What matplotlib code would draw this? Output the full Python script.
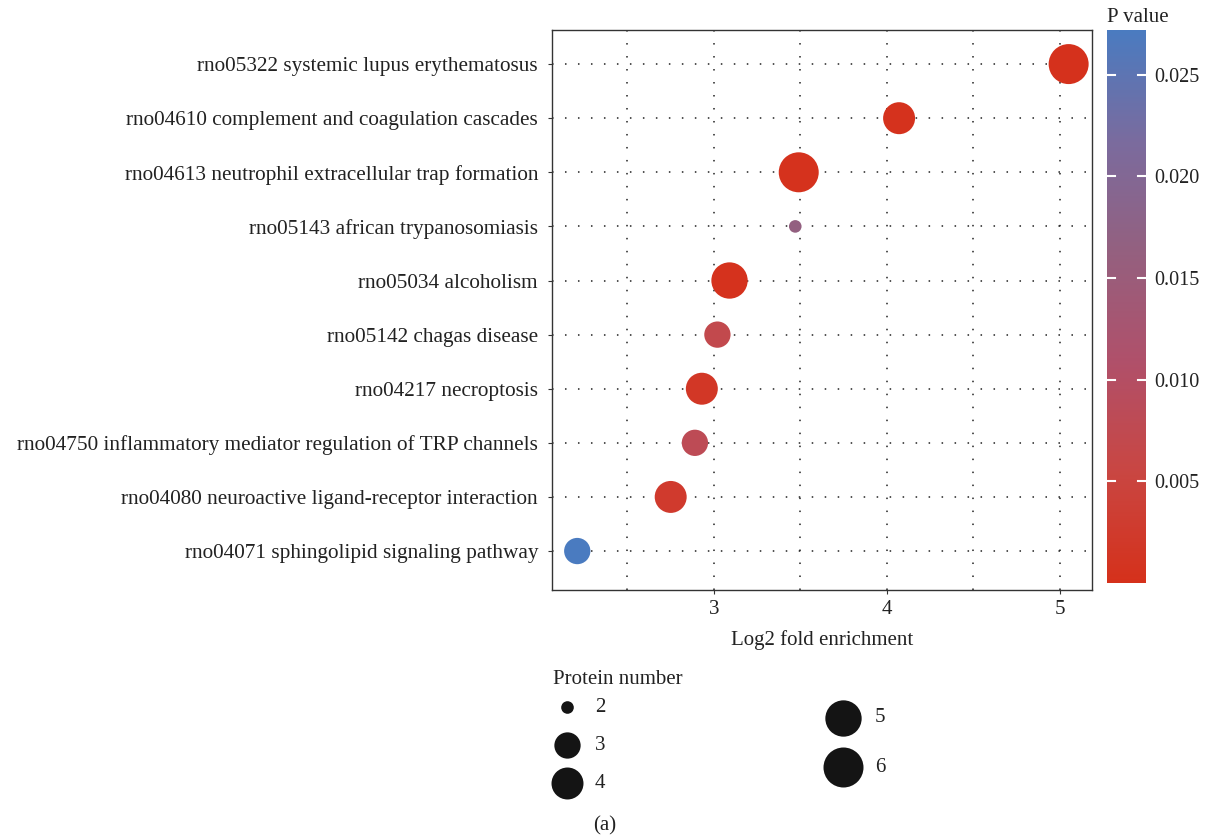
import numpy as np
import matplotlib.pyplot as plt
from matplotlib.colors import LinearSegmentedColormap, Normalize
from matplotlib.ticker import MultipleLocator

plt.rcParams['font.family'] = ['Liberation Serif', 'DejaVu Serif']

# pathways, top to bottom
pathways = [
    'rno05322 systemic lupus erythematosus',
    'rno04610 complement and coagulation cascades',
    'rno04613 neutrophil extracellular trap formation',
    'rno05143 african trypanosomiasis',
    'rno05034 alcoholism',
    'rno05142 chagas disease',
    'rno04217 necroptosis',
    'rno04750 inflammatory mediator regulation of TRP channels',
    'rno04080 neuroactive ligand-receptor interaction',
    'rno04071 sphingolipid signaling pathway',
]
log2_fe = [5.05, 4.07, 3.49, 3.47, 3.09, 3.02, 2.93, 2.89, 2.75, 2.21]
protein_n = [6, 4, 6, 2, 5, 3, 4, 3, 4, 3]
p_values = [0.0002, 0.0003, 0.0003, 0.0165, 0.0003, 0.0070, 0.0015, 0.0080, 0.0025, 0.0272]

legend_sizes = [2, 3, 4, 5, 6]

cmap = LinearSegmentedColormap.from_list(
    'pv', ['#d5311b', '#c94642', '#b0506a', '#94607f', '#7a6b9e', '#4a7bc0'])
norm = Normalize(vmin=0.0, vmax=0.0272)
FS = 15


def msize(n, rmin=6.3, rmax=20.0):
    r = rmin + (rmax - rmin) * np.sqrt((n - 2) / 4.0)
    return (2 * r * 0.72) ** 2


fig = plt.figure(figsize=(12.12, 8.39), dpi=100)
ax = fig.add_axes([552 / 1212, 1 - 590 / 839, 540 / 1212, 560 / 839])

ypos = np.arange(len(pathways))[::-1] + 1
ax.scatter(log2_fe, ypos, s=[msize(n) for n in protein_n],
           c=p_values, cmap=cmap, norm=norm, linewidths=0, zorder=3)

ax.set_xlim(2.064, 5.185)
ax.set_ylim(0.28, 10.63)
ax.set_yticks(ypos)
ax.set_yticklabels(pathways, fontsize=15.3)
ax.xaxis.set_major_locator(MultipleLocator(1))
ax.xaxis.set_minor_locator(MultipleLocator(0.5))
ax.tick_params(axis='x', which='minor', length=0)
ax.tick_params(axis='both', which='major', length=3, color='#333333',
               labelsize=FS, labelcolor='#222222')
ax.tick_params(axis='y', pad=7, labelsize=15.3)
ax.tick_params(axis='x', pad=4)
dots = dict(linestyle=(0, (1, 7.5)), color='#222222', linewidth=1.1)
ax.grid(True, which='both', axis='x', **dots)
ax.grid(True, which='major', axis='y', **dots)
for sp in ax.spines.values():
    sp.set_color('#333333')
    sp.set_linewidth(1.0)
ax.set_xlabel('Log2 fold enrichment', fontsize=FS, color='#222222', labelpad=8)

# colorbar
cax = fig.add_axes([1107 / 1212, 1 - 583 / 839, 39 / 1212, 553 / 839])
sm = plt.cm.ScalarMappable(norm=norm, cmap=cmap)
cb = fig.colorbar(sm, cax=cax)
cb.outline.set_visible(False)
cb.set_ticks([0.005, 0.010, 0.015, 0.020, 0.025])
cb.set_ticklabels(['0.005', '0.010', '0.015', '0.020', '0.025'])
cb.ax.tick_params(length=0, labelsize=14.5, labelcolor='#222222', pad=6)
for t in [0.005, 0.010, 0.015, 0.020, 0.025]:
    cax.plot([0, 0.2], [t, t], color='white', lw=1.5)
    cax.plot([0.8, 1], [t, t], color='white', lw=1.5)
cax.set_xlim(0, 1)
fig.text(1107 / 1212, 1 - 17 / 839, 'P value', fontsize=FS, color='#222222', va='center')

# size legend
fig.text(553 / 1212, 1 - 680 / 839, 'Protein number', fontsize=FS, color='#222222', va='center')
lax = fig.add_axes([0, 0, 1, 1], facecolor='none')
lax.set_xlim(0, 1212)
lax.set_ylim(839, 0)
lax.axis('off')
leg_x = [567, 567, 567, 843, 843]
leg_y = [707, 745, 783, 718, 767]
for n, lx, ly in zip(legend_sizes, leg_x, leg_y):
    lax.scatter([lx], [ly], s=msize(n), color='#141414', linewidths=0)
    lax.text(lx + 28 if lx < 700 else lx + 32, ly, str(n), fontsize=FS,
             color='#222222', va='center')

fig.text(605 / 1212, 1 - 826 / 839, '(a)', fontsize=FS, color='#222222', va='center', ha='center')

fig.savefig('out.png', dpi=100)
